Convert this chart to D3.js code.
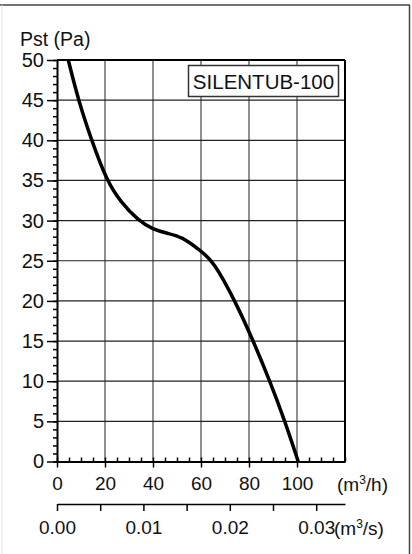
<!DOCTYPE html>
<html>
<head>
<meta charset="utf-8">
<script src="https://cdn.jsdelivr.net/npm/d3@7"></script>
<style>
	body { margin: 0; background: #fff; }
	svg { display: block; font-family: 'Liberation Sans', Arial, sans-serif; }
	.axis text { fill: #111; font-family: 'Liberation Sans', Arial, sans-serif; }
	.axis path, .axis line { stroke: #000; }
</style>
</head>
<body>
<div class="visContainer"></div>
<script>
const w = 412;
const h = 554;

// curve: airflow (m3/h) vs static pressure (Pa)
const flow = [4.7, 8.9, 14.4, 20.7, 26.3, 33.9, 40, 46, 52, 59.6, 65.1, 74.2, 81.8, 88.7, 95, 100.5];
const pressure = [50, 45, 40, 35, 32.4, 30, 28.9, 28.4, 28, 26.3, 25, 20, 15, 10, 5, 0];

const yTicks = [0, 5, 10, 15, 20, 25, 30, 35, 40, 45, 50];
const xTicks = [0, 20, 40, 60, 80, 100];
const xGrid = [20, 40, 60, 80, 100];
const xsTicks = [0, 0.005, 0.01, 0.015, 0.02, 0.025, 0.03];
const xsLabels = [0, 0.01, 0.02, 0.03];
const modelName = 'SILENTUB-100';

const svg = d3
	.select('.visContainer')
	.append('svg')
	.attr('width', w)
	.attr('height', h);

// outer frame (top + right dark, left faint)
svg.append('line').attr('x1', 0).attr('x2', 410).attr('y1', 5).attr('y2', 5)
	.attr('stroke', '#444').attr('stroke-width', 1.5);
svg.append('line').attr('x1', 409.5).attr('x2', 409.5).attr('y1', 5).attr('y2', h)
	.attr('stroke', '#444').attr('stroke-width', 1.5);
svg.append('line').attr('x1', 2).attr('x2', 2).attr('y1', 5).attr('y2', h)
	.attr('stroke', '#e4e4e4').attr('stroke-width', 1);

const xScale = d3.scaleLinear().domain([0, 120]).range([57, 345]);
const yScale = d3.scaleLinear().domain([0, 50]).range([461.5, 60]);
// same axis in m3/s
const xsScale = d3.scaleLinear().domain([0, 120 / 3600]).range([57, 345]);

// grid
svg.append('g')
	.selectAll('line')
	.data(xGrid)
	.enter()
	.append('line')
	.attr('x1', (d) => xScale(d))
	.attr('x2', (d) => xScale(d))
	.attr('y1', yScale(50))
	.attr('y2', yScale(0))
	.attr('stroke', '#6a6a6a')
	.attr('stroke-width', 1.5);

svg.append('g')
	.selectAll('line')
	.data(yTicks.filter((d) => d > 0 && d < 50))
	.enter()
	.append('line')
	.attr('x1', xScale(0))
	.attr('x2', xScale(120))
	.attr('y1', (d) => yScale(d))
	.attr('y2', (d) => yScale(d))
	.attr('stroke', '#222')
	.attr('stroke-width', 1.2);

// plot border top/right
svg.append('line').attr('x1', xScale(0)).attr('x2', xScale(120))
	.attr('y1', yScale(50)).attr('y2', yScale(50))
	.attr('stroke', '#000').attr('stroke-width', 2);
svg.append('line').attr('x1', xScale(120)).attr('x2', xScale(120))
	.attr('y1', yScale(50)).attr('y2', yScale(0))
	.attr('stroke', '#000').attr('stroke-width', 2);

// y axis: minor then major
svg.append('g')
	.attr('class', 'axis')
	.attr('transform', 'translate(' + xScale(0) + ',0)')
	.call(d3.axisLeft(yScale).tickValues(d3.range(0, 51, 1)).tickSize(4).tickSizeOuter(0).tickFormat(''))
	.call((g) => g.selectAll('line').attr('stroke-width', 1.5));

svg.append('g')
	.attr('class', 'axis')
	.attr('transform', 'translate(' + xScale(0) + ',0)')
	.call(d3.axisLeft(yScale).tickValues(yTicks).tickSize(10).tickSizeOuter(0).tickPadding(3))
	.call((g) => g.selectAll('text').attr('font-size', 20))
	.call((g) => g.select('.domain').attr('stroke-width', 2))
	.call((g) => g.selectAll('line').attr('stroke-width', 1.5));

// x axis (m3/h): minor ticks inward, major outward
svg.append('g')
	.attr('class', 'axis')
	.attr('transform', 'translate(0,' + yScale(0) + ')')
	.call(d3.axisTop(xScale).tickValues(d3.range(0, 121, 5)).tickSize(4).tickSizeOuter(0).tickFormat(''))
	.call((g) => g.selectAll('line').attr('stroke-width', 1.5));

svg.append('g')
	.attr('class', 'axis')
	.attr('transform', 'translate(0,' + yScale(0) + ')')
	.call(d3.axisBottom(xScale).tickValues(xTicks).tickSize(6).tickSizeOuter(0).tickPadding(9))
	.call((g) => g.selectAll('text').attr('font-size', 19))
	.call((g) => g.select('.domain').attr('stroke-width', 2))
	.call((g) => g.selectAll('line').attr('stroke-width', 1.5));

// second x axis (m3/s)
svg.append('g')
	.attr('class', 'axis')
	.attr('transform', 'translate(0,504)')
	.call(d3.axisBottom(xsScale).tickValues(xsTicks).tickSize(7).tickSizeOuter(0).tickPadding(10)
		.tickFormat((d) => (xsLabels.some((v) => Math.abs(v - d) < 1e-9) ? d3.format('.2f')(d) : '')))
	.call((g) => g.selectAll('text').attr('font-size', 19))
	.call((g) => g.select('.domain').attr('stroke-width', 1.5))
	.call((g) => g.selectAll('line').attr('stroke-width', 1.5));

// unit labels
const unitH = svg.append('text').attr('x', 337).attr('y', 490.5).attr('font-size', 19).attr('fill', '#111');
unitH.append('tspan').text('(m');
unitH.append('tspan').attr('font-size', 12).attr('dy', -7).text('3');
unitH.append('tspan').attr('dy', 7).text('/h)');

const unitS = svg.append('text').attr('x', 334).attr('y', 535).attr('font-size', 19).attr('fill', '#111');
unitS.append('tspan').text('(m');
unitS.append('tspan').attr('font-size', 12).attr('dy', -7).text('3');
unitS.append('tspan').attr('dy', 7).text('/s)');

svg.append('text')
	.attr('x', 20)
	.attr('y', 46)
	.attr('font-size', 19.5)
	.attr('fill', '#111')
	.text('Pst (Pa)');

// model box
svg.append('rect')
	.attr('x', 188.5)
	.attr('y', 65.5)
	.attr('width', 150)
	.attr('height', 31)
	.attr('fill', '#fff')
	.attr('stroke', '#333')
	.attr('stroke-width', 1.5);

svg.append('text')
	.attr('x', 263.5)
	.attr('y', 88.5)
	.attr('text-anchor', 'middle')
	.attr('font-size', 20.5)
	.attr('fill', '#111')
	.text(modelName);

// curve
const line = d3.line()
	.x((d, i) => xScale(flow[i]))
	.y((d, i) => yScale(pressure[i]))
	.curve(d3.curveBasis);

svg.append('path')
	.datum(flow)
	.attr('d', line)
	.attr('fill', 'none')
	.attr('stroke', '#000')
	.attr('stroke-width', 3.5);
</script>
</body>
</html>
